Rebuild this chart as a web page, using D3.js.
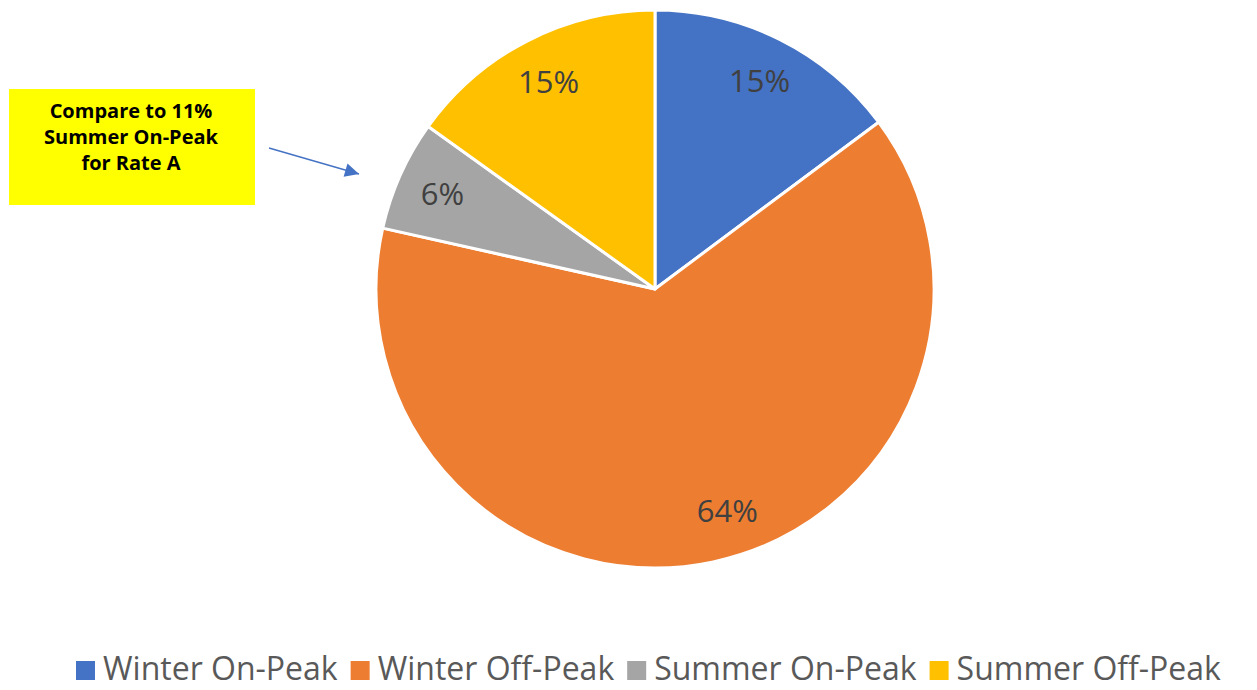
<!DOCTYPE html>
<html>
<head>
<meta charset="utf-8">
<style>
  body { margin: 0; background: #fff; }
  svg { display: block; }
</style>
</head>
<body>
<script src="https://d3js.org/d3.v7.min.js"></script>
<script>
// data
const categories = ['Winter On-Peak', 'Winter Off-Peak', 'Summer On-Peak', 'Summer Off-Peak'];
const shares = [14.8, 63.7, 6.4, 15.1];
const labels = ['15%', '64%', '6%', '15%'];
const colors = ['#4472C4', '#ED7D31', '#A5A5A5', '#FFC000'];
const noteLines = ['Compare to 11%', 'Summer On-Peak', 'for Rate A'];

const W = 1257, H = 690;
const cx = 655, cy = 289, r = 279;
// excel nudges the big slice's label off its middle
const labelShift = [0, -6, 0, 0];

const svg = d3.select('body').append('svg').attr('width', W).attr('height', H);

const pie = d3.pie().sort(null).value(d => d.v);
const arcs = pie(categories.map((c, i) => ({ c: c, v: shares[i], i: i })));
const arc = d3.arc().innerRadius(0).outerRadius(r);

function labelPos(d) {
  const a = (d.startAngle + d.endAngle) / 2 + labelShift[d.data.i] * Math.PI / 180;
  const lr = r * 0.835;
  return [lr * Math.sin(a), -lr * Math.cos(a)];
}

const g = svg.append('g').attr('transform', 'translate(' + cx + ',' + cy + ')');
g.selectAll('path').data(arcs).enter().append('path')
  .attr('d', arc)
  .attr('fill', d => colors[d.data.i])
  .attr('stroke', '#fff').attr('stroke-width', 3).attr('stroke-linejoin', 'round');

g.selectAll('text').data(arcs).enter().append('text')
  .attr('transform', d => 'translate(' + labelPos(d) + ')')
  .attr('text-anchor', 'middle').attr('dy', '0.36em')
  .attr('font-family', 'Open Sans, sans-serif').attr('font-size', 31)
  .attr('fill', '#404040')
  .text(d => labels[d.data.i]);

// yellow note box
svg.append('rect').attr('x', 9).attr('y', 89).attr('width', 246).attr('height', 116).attr('fill', '#FFFF00');
svg.append('g').selectAll('text').data(noteLines).enter().append('text')
  .attr('x', 131).attr('y', (d, i) => 118 + i * 26)
  .attr('text-anchor', 'middle')
  .attr('font-family', 'Open Sans, sans-serif').attr('font-weight', 'bold').attr('font-size', 20)
  .attr('fill', '#000')
  .text(d => d);

// arrow
const defs = svg.append('defs');
defs.append('marker').attr('id', 'ah').attr('viewBox', '0 0 10 10')
  .attr('refX', 10).attr('refY', 5).attr('markerWidth', 16).attr('markerHeight', 14)
  .attr('markerUnits', 'userSpaceOnUse').attr('orient', 'auto')
  .append('path').attr('d', 'M0,0L10,5L0,10Z').attr('fill', '#4472C4');
svg.append('line').attr('x1', 269).attr('y1', 148).attr('x2', 359).attr('y2', 174)
  .attr('stroke', '#4472C4').attr('stroke-width', 1.4).attr('marker-end', 'url(#ah)');

// legend
const leg = svg.append('g').attr('font-family', 'Open Sans, sans-serif').attr('font-size', 32).attr('fill', '#595959');
let x = 76;
categories.forEach((c, i) => {
  leg.append('rect').attr('x', x).attr('y', 661).attr('width', 19).attr('height', 19).attr('fill', colors[i]);
  const t = leg.append('text').attr('x', x + 27).attr('y', 680).text(c);
  x += 27 + t.node().getComputedTextLength() + 13;
});
</script>
</body>
</html>
